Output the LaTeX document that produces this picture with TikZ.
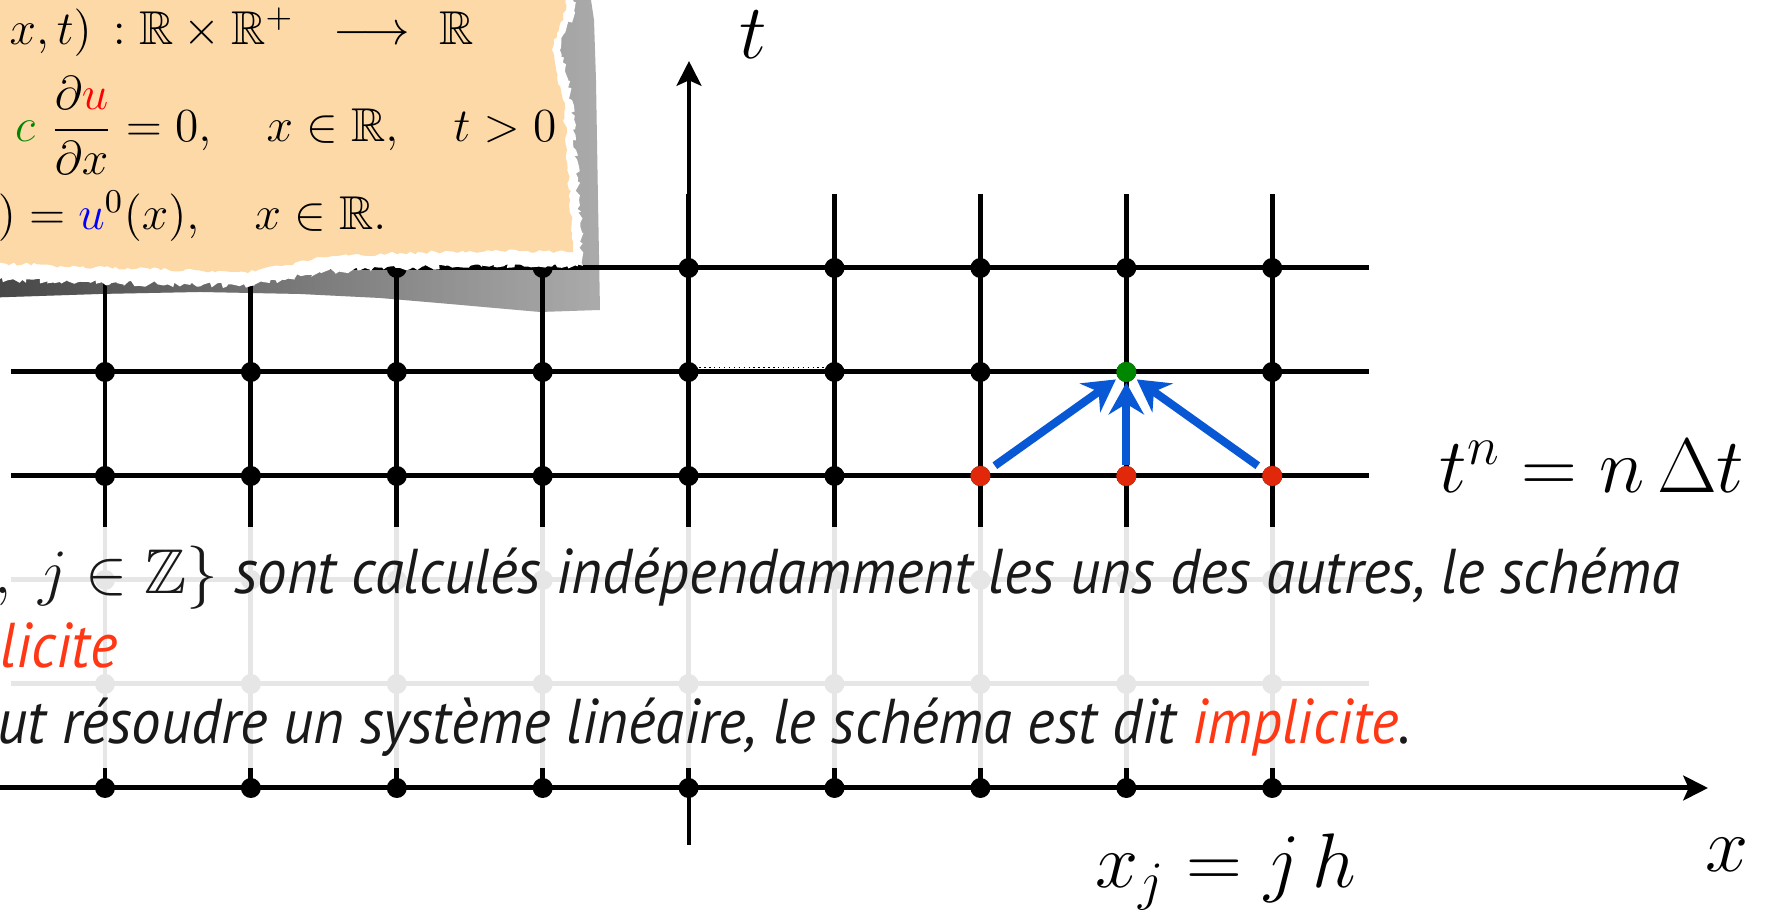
\documentclass[tikz,border=0pt]{standalone}
\usepackage{fix-cm}
\usepackage{amsmath}
\usepackage{amssymb}
\DeclareFontFamily{U}{msb}{}
\DeclareFontShape{U}{msb}{m}{n}{<-6> msbm5 <6-8> msbm7 <8-> msbm10}{}
\usepackage{fontspec}
\setsansfont{PT Sans}[FakeStretch=0.93]
\usetikzlibrary{arrows.meta,decorations.pathmorphing,fadings}
\definecolor{papier}{RGB}{253,217,167}
\definecolor{bleu}{RGB}{8,88,214}
\definecolor{rouge}{RGB}{225,40,10}
\definecolor{rougetxt}{RGB}{255,55,20}
\definecolor{vert}{RGB}{0,135,0}
\definecolor{encre}{RGB}{25,25,25}

\begin{document}
\begin{tikzpicture}[x=0.01cm,y=-0.01cm,
  grille/.style={line width=1.42pt},
  pt/.style={circle,fill=black,inner sep=0pt,minimum size=0.2cm},
  fleche/.style={bleu,line width=2.3pt,-{Stealth[length=9pt,width=10pt,inset=3pt]}},
  axe/.style={grille,-{Stealth[length=7pt,width=7pt,inset=1.5pt]}},
  phrase/.style={inner sep=0pt,anchor=base east,text=encre,font=\fontsize{18}{22}\selectfont\sffamily\itshape},
  eq/.style={inner sep=0pt,anchor=base east,font=\fontsize{13.5}{17}\selectfont},
  lbl/.style={inner sep=0pt,font=\fontsize{22}{27}\selectfont}]
  \useasboundingbox (0,0) rectangle (1768,910);
  \clip (0,0) rectangle (1768,910);
  \pgfmathsetseed{7}
  \foreach \j in {0,...,8}
    \draw[grille] (105+145.9*\j,194) -- (105+145.9*\j,788);
  \foreach \y in {268,372,476,580,684}
    \draw[grille] (11,\y) -- (1369,\y);
  \draw[axe] (0,788) -- (1708,788);
  \draw[axe] (689,845) -- (689,61);
  \foreach \j in {0,...,8}
    \foreach \i/\y in {1/268,2/372,3/476,4/580,5/684,6/788}
      \node[pt] (p-\j-\i) at (105+145.9*\j,\y) {};
  \draw[densely dotted,line width=0.4pt] ([yshift=1.2pt]p-4-2.east) -- ([yshift=1.2pt]p-5-2.west);
  \node[pt,fill=vert] (cible) at (p-7-2) {};
  \node[pt,fill=rouge] (gauche) at (p-6-3) {};
  \node[pt,fill=rouge] (centre) at (p-7-3) {};
  \node[pt,fill=rouge] (droite) at (p-8-3) {};
  \draw[fleche,shorten <=2pt,shorten >=0.6pt] (gauche) -- (cible);
  \draw[fleche] (centre) -- (cible);
  \draw[fleche,shorten <=2pt,shorten >=0.6pt] (droite) -- (cible);
  \fill[white,opacity=0.9] (0,527) rectangle (1768,768);
  \node[phrase] (l1) at (1681,594) {$,\ j\in\mathbb{Z}\}$ sont calculés indépendamment les uns des autres, le schéma};
  \node[phrase,text=rougetxt] (l2) at (118,668) {plicite};
  \node[phrase] (l3) at (1412,744) {ut résoudre un système linéaire, le schéma est dit \textcolor{rougetxt}{implicite}.};
  \fill[black,opacity=0.33]
    (-20,-20) -- (588,-20) -- (594,20) -- (596,80) -- (598,200) -- (600,310) -- (540,312) -- (450,304)
    -- (380,298) -- (300,294) -- (200,292) -- (100,294) -- (-20,298) -- cycle;
  \fill[black,opacity=0.6,path fading=east]
    (-20,-20) -- (588,-20) -- (594,20) -- (596,80) -- (598,200) -- (600,310) -- (540,312) -- (450,304)
    -- (380,298) -- (300,294) -- (200,292) -- (100,294) -- (-20,298) -- cycle;
  \fill[white,decorate,decoration={random steps,segment length=1pt,amplitude=0.8pt}]
    (-20,-20) -- (577,-20) -- (574,10) -- (565,33) -- (560,50) -- (565,70) -- (572,100) -- (576,150)
    -- (579,200) -- (583,266) -- (470,266) -- (400,268) -- (320,272) -- (285,280) -- (245,286)
    -- (150,284) -- (60,282) -- (-20,280) -- cycle;
  \fill[papier,decorate,decoration={random steps,segment length=1.2pt,amplitude=0.5pt}]
    (-20,-20) -- (569,-20) -- (566,10) -- (557,33) -- (552,50) -- (556,70) -- (563,100) -- (567,150)
    -- (570,200) -- (573,252) -- (470,251) -- (400,253) -- (320,257) -- (285,265) -- (245,272)
    -- (150,269) -- (60,266) -- (-20,262) -- cycle;
  \node[eq] (e1) at (474,45) {$x,t)\,: \mathbb{R}\times\mathbb{R}^+ \hspace{7.5pt}\longrightarrow\hspace{4.5pt} \mathbb{R}$};
  \node[eq] (e2) at (557,142) {$\textcolor{vert}{c}\ \dfrac{\partial\textcolor{red}{u}}{\partial x} = 0, \quad x\in\mathbb{R}, \quad t>0$};
  \node[eq] (e3) at (387,230) {$0) = \textcolor{blue}{u}^0(x), \quad x\in\mathbb{R}.$};
  \node[lbl] (lt) at (753,35) {$t$};
  \node[lbl] (lx) at (1727,855) {$x$};
  \node[lbl,anchor=base east] (ltn) at (1745,493) {$t^n = n\,\Delta t$};
  \node[lbl,anchor=base east] (lxj) at (1357,888) {$x_j = j\,h$};
\end{tikzpicture}
\end{document}
